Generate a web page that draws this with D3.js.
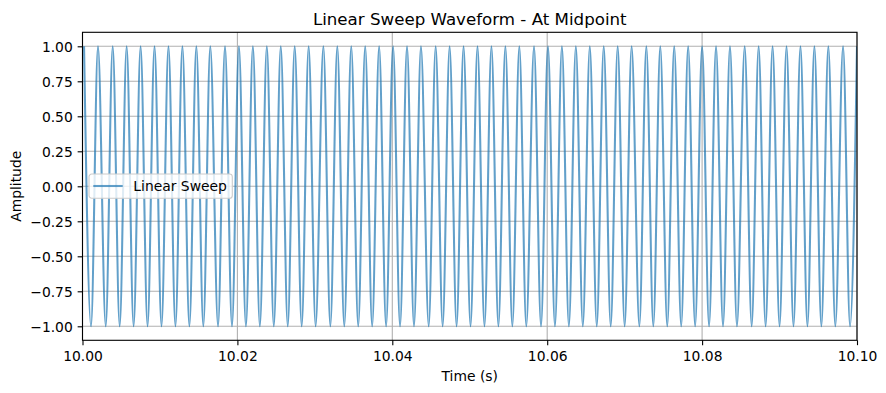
<!DOCTYPE html>
<html>
<head>
<meta charset="utf-8">
<script src="https://cdn.jsdelivr.net/npm/d3@7"></script>
<style>
  body { margin: 0; background: #fff; }
  svg { display: block; font-family: "DejaVu Sans", sans-serif; }
</style>
</head>
<body>
<div id="chart"></div>
<script>
// Dados (tempo em s)
const peakTimes = [
  10.0002, 10.0020, 10.0039, 10.0057, 10.0075, 10.0093, 10.0111, 10.0129, 10.0147, 10.0165, 10.0184,
  10.0202, 10.0220, 10.0238, 10.0256, 10.0274, 10.0292, 10.0311, 10.0329, 10.0347, 10.0365, 10.0383,
  10.0401, 10.0419, 10.0437, 10.0456, 10.0474, 10.0492, 10.0510, 10.0528, 10.0546, 10.0564, 10.0583,
  10.0601, 10.0619, 10.0637, 10.0655, 10.0673, 10.0691, 10.0709, 10.0728, 10.0746, 10.0764, 10.0782,
  10.0800, 10.0818, 10.0836, 10.0855, 10.0873, 10.0891, 10.0909, 10.0927, 10.0945, 10.0963, 10.0982,
  10.1000
];
const troughTimes = [
  10.0011, 10.0030, 10.0048, 10.0066, 10.0084, 10.0102, 10.0120, 10.0138, 10.0156, 10.0175, 10.0193,
  10.0211, 10.0229, 10.0247, 10.0265, 10.0283, 10.0301, 10.0320, 10.0338, 10.0356, 10.0374, 10.0392,
  10.0410, 10.0428, 10.0447, 10.0465, 10.0483, 10.0501, 10.0519, 10.0537, 10.0555, 10.0573, 10.0592,
  10.0610, 10.0628, 10.0646, 10.0664, 10.0682, 10.0700, 10.0719, 10.0737, 10.0755, 10.0773, 10.0791,
  10.0809, 10.0827, 10.0845, 10.0864, 10.0882, 10.0900, 10.0918, 10.0936, 10.0954, 10.0972, 10.0991
];
const peakLevel = 1.0;
const troughLevel = -1.0;

const xTicks = [10.00, 10.02, 10.04, 10.06, 10.08, 10.10];
const yTicks = [-1.00, -0.75, -0.50, -0.25, 0.00, 0.25, 0.50, 0.75, 1.00];
const xDomain = [10.00, 10.10];
const yDomain = [-1.1, 1.1];

const title = "Linear Sweep Waveform - At Midpoint";
const xLabel = "Time (s)";
const yLabel = "Amplitude";
const seriesName = "Linear Sweep";

// Tamanho e margens
const W = 886, H = 393;
const axLeft = 82.5, axRight = 857, axTop = 32.3, axBottom = 340.3;
const fs = 13.89;

const svg = d3.select("#chart").append("svg")
  .attr("width", W)
  .attr("height", H);

const x = d3.scaleLinear().domain(xDomain).range([axLeft, axRight]);
const y = d3.scaleLinear().domain(yDomain).range([axBottom, axTop]);

// Juntar picos e vales em ordem
const points = peakTimes.map(t => ({ t, v: peakLevel }))
  .concat(troughTimes.map(t => ({ t, v: troughLevel })))
  .sort((a, b) => a.t - b.t);

// Grade
const grid = svg.append("g");
grid.selectAll(".gx").data(xTicks).enter().append("line")
  .attr("x1", d => x(d)).attr("x2", d => x(d))
  .attr("y1", axTop).attr("y2", axBottom)
  .attr("stroke", "#b0b0b0").attr("stroke-width", 1.1);
grid.selectAll(".gy").data(yTicks).enter().append("line")
  .attr("x1", axLeft).attr("x2", axRight)
  .attr("y1", d => y(d)).attr("y2", d => y(d))
  .attr("stroke", "#b0b0b0").attr("stroke-width", 1.1);

// Clip
svg.append("defs").append("clipPath").attr("id", "clip")
  .append("rect")
  .attr("x", axLeft).attr("y", axTop)
  .attr("width", axRight - axLeft).attr("height", axBottom - axTop);

const line = d3.line()
  .x(d => x(d.t))
  .y(d => y(d.v))
  .curve(d3.curveMonotoneX);

svg.append("path")
  .datum(points)
  .attr("clip-path", "url(#clip)")
  .attr("d", line)
  .attr("fill", "none")
  .attr("stroke", "#1f77b4")
  .attr("stroke-opacity", 0.7)
  .attr("stroke-width", 2.08)
  .attr("stroke-linejoin", "round");

// Eixos
const fmt = d3.format(".2f");
const xAxis = svg.append("g")
  .attr("transform", `translate(0,${axBottom})`)
  .call(d3.axisBottom(x).tickValues(xTicks).tickFormat(fmt)
    .tickSize(4.86).tickSizeOuter(0).tickPadding(5.6));
const yAxis = svg.append("g")
  .attr("transform", `translate(${axLeft},0)`)
  .call(d3.axisLeft(y).tickValues(yTicks).tickFormat(fmt)
    .tickSize(4.86).tickSizeOuter(0).tickPadding(4.86));

[xAxis, yAxis].forEach(g => {
  g.select(".domain").remove();
  g.selectAll(".tick line").attr("stroke", "#000").attr("stroke-width", 1.1);
  g.selectAll(".tick text")
    .attr("fill", "#000")
    .style("font-family", "DejaVu Sans")
    .style("font-size", fs + "px");
});
yAxis.selectAll(".tick text").attr("dy", "0.39em");

// Moldura
svg.append("rect")
  .attr("x", axLeft).attr("y", axTop)
  .attr("width", axRight - axLeft).attr("height", axBottom - axTop)
  .attr("fill", "none")
  .attr("stroke", "#000")
  .attr("stroke-width", 1.1);

// Títulos
svg.append("text")
  .attr("x", (axLeft + axRight) / 2)
  .attr("y", 25)
  .attr("text-anchor", "middle")
  .style("font-size", "16.67px")
  .text(title);

svg.append("text")
  .attr("x", (axLeft + axRight) / 2)
  .attr("y", 381)
  .attr("text-anchor", "middle")
  .style("font-size", fs + "px")
  .text(xLabel);

svg.append("text")
  .attr("transform", `translate(21,${(axTop + axBottom) / 2}) rotate(-90)`)
  .attr("text-anchor", "middle")
  .style("font-size", fs + "px")
  .text(yLabel);

// Legenda
const legend = svg.append("g").attr("transform", "translate(89,174)");
legend.append("rect")
  .attr("width", 143.3)
  .attr("height", 24.3)
  .attr("rx", 2.8)
  .attr("fill", "#fff")
  .attr("fill-opacity", 0.8)
  .attr("stroke", "#cccccc")
  .attr("stroke-width", 1.1);
legend.append("line")
  .attr("x1", 4.3).attr("x2", 33.7)
  .attr("y1", 12).attr("y2", 12)
  .attr("stroke", "#1f77b4")
  .attr("stroke-opacity", 0.7)
  .attr("stroke-width", 2.08);
legend.append("text")
  .attr("x", 44.3)
  .attr("y", 16.8)
  .style("font-size", fs + "px")
  .text(seriesName);
</script>
</body>
</html>
